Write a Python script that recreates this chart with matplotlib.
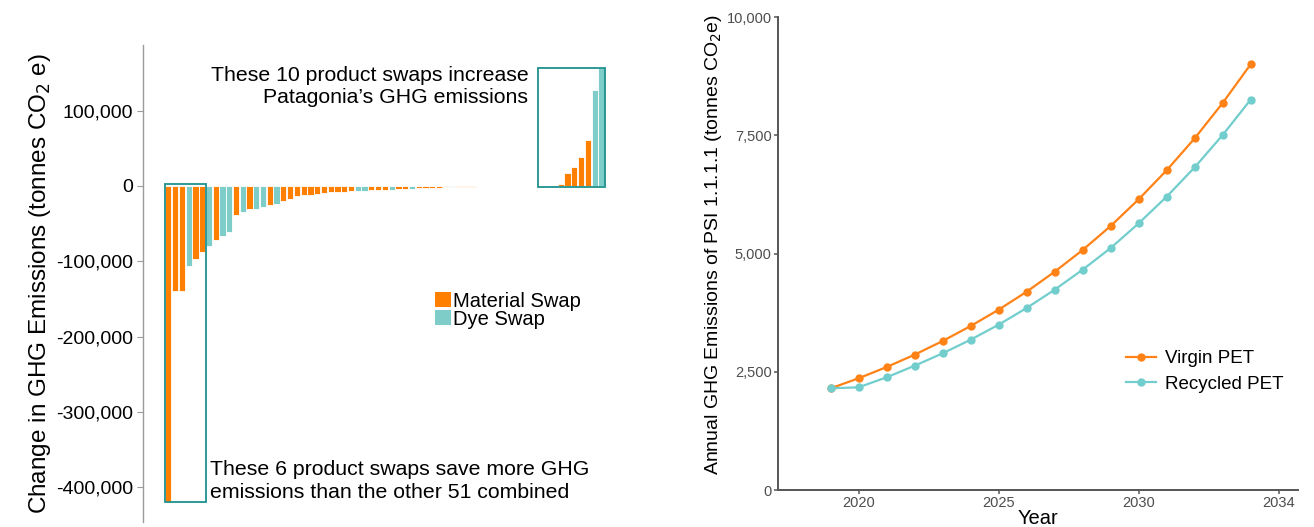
import matplotlib
matplotlib.use("Agg")
import matplotlib.pyplot as plt
from matplotlib.patches import Rectangle, Patch
from matplotlib.ticker import FuncFormatter
import numpy as np

# ── Product swaps: change in GHG emissions (tonnes CO2e), sorted ──
swap_change = [
    -420000, -140000, -140000, -106000, -97000, -88000, -80000, -72000, -66000, -61000,
    -38000, -34000, -30500, -30000, -28000, -25000, -24000, -19500, -17000, -13000,
    -11500, -11500, -10500, -9000, -8000, -8000, -8000, -7200, -6500, -6500,
    -5500, -5500, -5000, -5000, -4200, -4000, -3500, -3000, -3000, -2700,
    -2500, -2000, -1500, -1200, -1000, -900, -700, -500, -400, -300,
    -200, -150, -100, -50, -20,
    50, 100, 200, 2600, 17700, 24800, 39000, 61000, 128000, 156000,
]
swap_type = list(
    "MMMDMMDMDD"
    "MDMDDMDMMM"
    "MMMMMMMMDD"
    "MMMDMMDMMM"
    "MMDMMMMMMM"
    "MMMMM"
    "MMMMMMMMDD"
)
n_top_savers = 6
n_increasers = 10

# ── PSI 1.1.1.1 annual emissions (tonnes CO2e) ──
years = list(range(2019, 2035))
virgin_pet = [2150, 2362, 2600, 2861, 3150, 3467, 3812, 4192, 4615, 5074,
              5581, 6146, 6759, 7435, 8182, 9000]
recycled_pet = [2150, 2171, 2383, 2628, 2890, 3178, 3495, 3848, 4235, 4658,
                5116, 5638, 6201, 6822, 7505, 8252]
year_ticks = [2020, 2025, 2030, 2035]
year_labels = ["2020", "2025", "2030", "2034"]

# Colors
ORANGE = "#FF7F00"
TEAL = "#7ECDC9"
BOX = "#1E918D"
LINE_ORANGE = "#FF8216"
LINE_TEAL = "#72CDCD"
GREY_TXT = "#4D4D4D"

plt.rcParams["font.family"] = ["Liberation Sans", "DejaVu Sans"]

fig = plt.figure(figsize=(13.14, 5.27), dpi=100)

# ═══════════════════════════════════════════
# Left: waterfall of product swaps
# ═══════════════════════════════════════════
ax1 = fig.add_axes([0.1088, 0.0095, 0.3592, 0.905])
x = np.arange(1, len(swap_change) + 1)
colors = [ORANGE if t == "M" else TEAL for t in swap_type]
ax1.bar(x, swap_change, width=0.92, color=colors, edgecolor="white", linewidth=0.6)

ax1.set_xlim(-2.75, 67)
ax1.set_ylim(-446000, 187000)
ax1.set_yticks([100000, 0, -100000, -200000, -300000, -400000])
ax1.yaxis.set_major_formatter(FuncFormatter(lambda v, p: f"{int(v):,}"))
ax1.set_xticks([])
for side in ["top", "right", "bottom"]:
    ax1.spines[side].set_visible(False)
ax1.spines["left"].set_color("#9A9A9A")
ax1.spines["left"].set_linewidth(1.0)
ax1.tick_params(axis="y", labelsize=14, length=4, color="#9A9A9A", pad=3)
ax1.set_ylabel("Change in GHG Emissions (tonnes CO$_2$ e)", fontsize=17.5, labelpad=2)

# boxes around the biggest savers and the increasers
save_vals = swap_change[:n_top_savers]
ax1.add_patch(Rectangle((0.5, min(save_vals)), n_top_savers, 2000 - min(save_vals),
                        fill=False, edgecolor=BOX, linewidth=1.3, zorder=4))
inc_vals = swap_change[-n_increasers:]
inc_left = len(swap_change) - n_increasers + 0.5
ax1.add_patch(Rectangle((inc_left + 0.2, -1500), n_increasers - 0.2, max(inc_vals) + 1500,
                        fill=False, edgecolor=BOX, linewidth=1.3, zorder=4))

ax1.text(inc_left - 1.3, max(inc_vals) + 3000,
         "These 10 product swaps increase\nPatagonia\u2019s GHG emissions",
         ha="right", va="top", fontsize=15.3, linespacing=1.2)
ax1.text(n_top_savers + 1.2, -364000,
         "These 6 product swaps save more GHG\nemissions than the other 51 combined",
         ha="left", va="top", fontsize=15.3, linespacing=1.25)

ax1.legend(handles=[Patch(facecolor=ORANGE, label="Material Swap"),
                    Patch(facecolor=TEAL, label="Dye Swap")],
           loc="upper left", bbox_to_anchor=(0.619, 0.483), frameon=False,
           fontsize=14.5, handlelength=0.8, handleheight=0.8, handletextpad=0.1,
           labelspacing=-0.05, borderpad=0, borderaxespad=0)

# ═══════════════════════════════════════════
# Right: annual emissions, virgin vs recycled PET
# ═══════════════════════════════════════════
ax2 = fig.add_axes([0.5921, 0.0702, 0.3957, 0.8975])
ax2.plot(years, virgin_pet, color=LINE_ORANGE, linewidth=1.6, marker="o",
         markersize=5, label="Virgin PET")
ax2.plot(years, recycled_pet, color=LINE_TEAL, linewidth=1.6, marker="o",
         markersize=5, label="Recycled PET")

ax2.set_xlim(2017.12, 2035.69)
ax2.set_ylim(0, 10000)
ax2.set_xticks(year_ticks)
ax2.set_xticklabels(year_labels)
ax2.set_yticks([0, 2500, 5000, 7500, 10000])
ax2.yaxis.set_major_formatter(FuncFormatter(lambda v, p: f"{int(v):,}"))
for side in ["top", "right"]:
    ax2.spines[side].set_visible(False)
for side in ["left", "bottom"]:
    ax2.spines[side].set_color("#555555")
    ax2.spines[side].set_linewidth(1.4)
ax2.tick_params(labelsize=10.5, labelcolor=GREY_TXT, color="#555555", length=3, width=1.1, pad=1.5)
ax2.set_xlabel("Year", fontsize=14.5, labelpad=-1)
ax2.set_ylabel("Annual GHG Emissions of PSI 1.1.1.1 (tonnes CO$_2$e)", fontsize=14,
               labelpad=2, y=0.52)
ax2.legend(loc="lower right", bbox_to_anchor=(1.005, 0.17), frameon=False,
           fontsize=13.5, handlelength=1.6, handletextpad=0.5, labelspacing=0.45)

fig.savefig("out.png", dpi=100)
